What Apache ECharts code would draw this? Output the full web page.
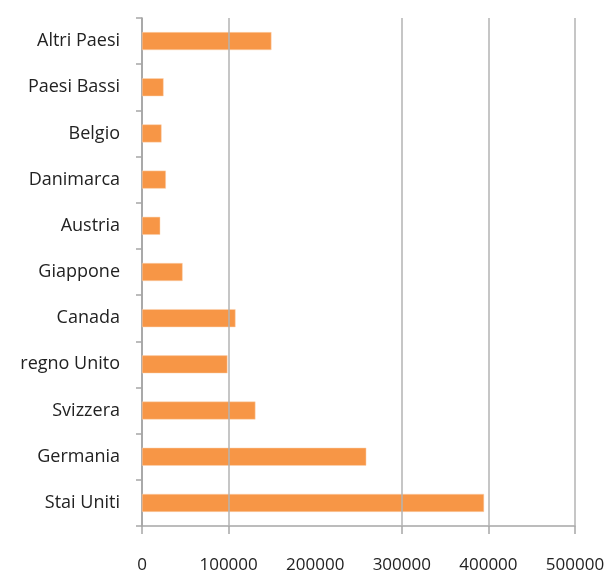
<!DOCTYPE html>
<html><head><meta charset="utf-8">
<script src="https://cdn.jsdelivr.net/npm/echarts@6/dist/echarts.min.js"></script>
<style>html,body{margin:0;padding:0;background:#fff}#c{width:613px;height:574px}</style>
</head><body><div id="c"></div>
<script>
const categories = ["Stai Uniti","Germania","Svizzera","regno Unito","Canada","Giappone","Austria","Danimarca","Belgio","Paesi Bassi","Altri Paesi"];
const values = [395000,259000,131000,98700,108000,46900,21100,27600,22600,24900,149500];
const xTicks = [0,100000,200000,300000,400000,500000];
const gridValues = [100000,300000,400000,500000];

const chart = echarts.init(document.getElementById('c'), null, {renderer:'canvas'});
chart.setOption({
  animation:false,
  grid:{left:142,right:38,top:18,bottom:47,containLabel:false},
  xAxis:{
    type:'value',min:0,max:500000,interval:100000,
    axisLine:{show:true,lineStyle:{color:'#a6a6a6',width:1.5}},
    axisTick:{show:true,length:8,lineStyle:{color:'#a6a6a6',width:1.5},customValues:[0,100000,300000,400000,500000]},
    axisLabel:{margin:31,color:'#222',fontFamily:'Open Sans',fontSize:17,customValues:xTicks,formatter:v=>String(v)},
    splitLine:{show:false}
  },
  yAxis:{
    type:'category',data:categories,
    axisLine:{show:true,lineStyle:{color:'#8c8c8c',width:1.5}},
    axisTick:{show:true,length:6,lineStyle:{color:'#a6a6a6',width:1.5}},
    axisLabel:{margin:22,color:'#222',fontFamily:'Open Sans',fontSize:18}
  },
  series:[{
    type:'bar',data:values,barWidth:18,
    itemStyle:{color:'#F79646',borderColor:'#fbd4b4',borderWidth:0.5},
    markLine:{silent:true,symbol:'none',label:{show:false},
      lineStyle:{color:'#b3b3b3',width:1.5,type:'solid'},
      data:gridValues.map(v=>({xAxis:v}))}
  }]
});
</script></body></html>
